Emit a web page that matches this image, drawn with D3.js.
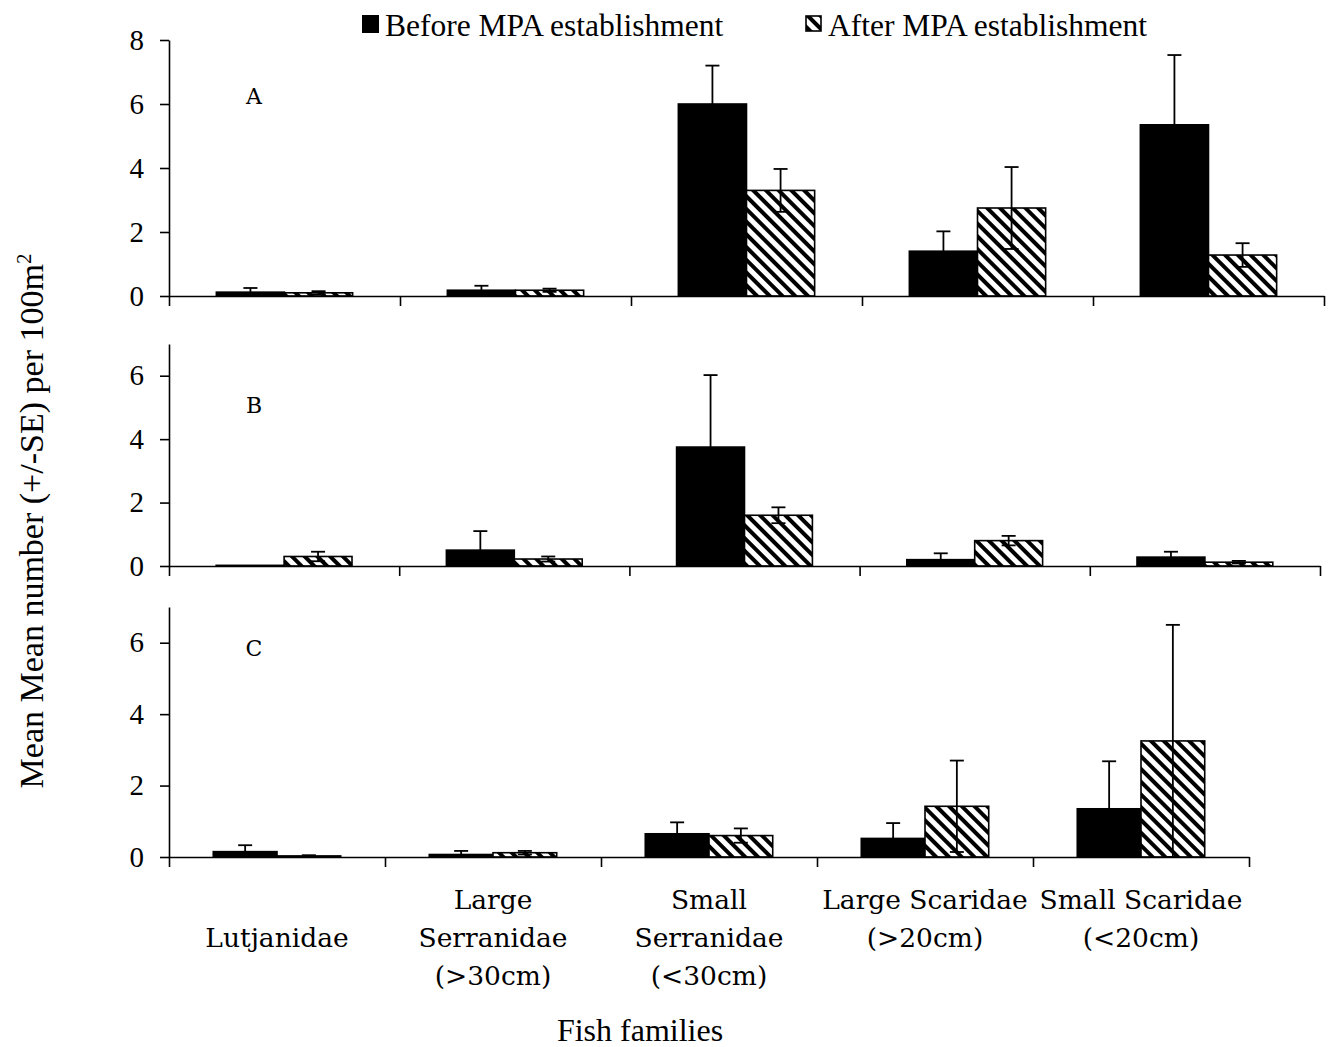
<!DOCTYPE html>
<html>
<head>
<meta charset="utf-8">
<script src="https://cdn.jsdelivr.net/npm/d3@7"></script>
<style>
  body { margin: 0; background: #fff; }
  svg { display: block; }
</style>
</head>
<body>
<svg id="vis" width="1333" height="1047"></svg>
<script>
// categories (fish families), label lines as printed under the axis
var categories = ["Lutjanidae", "Large Serranidae (>30cm)", "Small Serranidae (<30cm)", "Large Scaridae (>20cm)", "Small Scaridae (<20cm)"];
var categoryLines = [["", "Lutjanidae"], ["Large", "Serranidae", "(>30cm)"], ["Small", "Serranidae", "(<30cm)"], ["Large Scaridae", "(>20cm)"], ["Small Scaridae", "(<20cm)"]];
var seriesNames = ["Before MPA establishment", "After MPA establishment"];

// panel A
var beforeA = [0.12, 0.18, 6.0, 1.4, 5.35];
var beforeAErr = [0.13, 0.14, 1.2, 0.62, 2.18];
var afterA = [0.1, 0.18, 3.3, 2.75, 1.28];
var afterAErr = [0.05, 0.05, 0.67, 1.28, 0.37];
// panel B
var beforeB = [0.02, 0.5, 3.75, 0.2, 0.28];
var beforeBErr = [0, 0.6, 2.27, 0.2, 0.17];
var afterB = [0.3, 0.22, 1.6, 0.8, 0.12];
var afterBErr = [0.15, 0.08, 0.25, 0.15, 0.04];
// panel C
var beforeC = [0.15, 0.07, 0.65, 0.52, 1.35];
var beforeCErr = [0.18, 0.1, 0.32, 0.43, 1.33];
var afterC = [0.03, 0.12, 0.6, 1.42, 3.25];
var afterCErr = [0.02, 0.05, 0.2, 1.28, 3.25];

var yTicksA = [0, 2, 4, 6, 8];
var yTicksBC = [0, 2, 4, 6];

var _vis = d3.select("#vis");
var LEFT = 169;
var SERIF = "'Liberation Serif', 'Times New Roman', serif";
var LABEL_FONT = "'DejaVu Serif', serif";

// hatch pattern for the "after" bars ( \\\ stripes )
var defs = _vis.append("defs");
defs.append("pattern")
    .attr("id", "hatch")
    .attr("patternUnits", "userSpaceOnUse")
    .attr("width", 9)
    .attr("height", 9)
    .attr("patternTransform", "rotate(-45)")
    .call(function(p) {
        p.append("rect").attr("width", 9).attr("height", 9).attr("fill", "#fff");
        p.append("rect").attr("x", 0).attr("width", 4).attr("height", 9).attr("fill", "#000");
    });

var panels = [
    {letter: "A", letterY: 104, before: beforeA, beforeErr: beforeAErr, after: afterA, afterErr: afterAErr, max: 8, ticks: yTicksA, y0: 296, top: 40, right: 1324},
    {letter: "B", letterY: 413, before: beforeB, beforeErr: beforeBErr, after: afterB, afterErr: afterBErr, max: 7, ticks: yTicksBC, y0: 566, top: 344, right: 1320},
    {letter: "C", letterY: 656, before: beforeC, beforeErr: beforeCErr, after: afterC, afterErr: afterCErr, max: 7, ticks: yTicksBC, y0: 857, top: 607, right: 1249}
];

panels.forEach(function(p) {
    var g = _vis.append("g").attr("class", "panel");

    var y = d3.scaleLinear().domain([0, p.max]).range([p.y0, p.top]);
    var x0 = d3.scaleBand().domain(categories).range([LEFT, p.right]);
    var bw = x0.bandwidth();
    var x1 = d3.scaleBand().domain(["before", "after"]).range([bw * 0.205, bw * 0.795]);

    var rows = categories.map(function(c, i) {
        return [
            {cat: c, key: "before", v: p.before[i], e: p.beforeErr[i]},
            {cat: c, key: "after", v: p.after[i], e: p.afterErr[i]}
        ];
    });
    var flat = [].concat.apply([], rows);

    // bars
    g.selectAll("rect.bar")
        .data(flat)
        .enter()
        .append("rect")
        .attr("class", "bar")
        .attr("x", function(d) { return x0(d.cat) + x1(d.key); })
        .attr("y", function(d) { return y(d.v); })
        .attr("width", x1.bandwidth())
        .attr("height", function(d) { return p.y0 - y(d.v); })
        .attr("fill", function(d) { return d.key === "before" ? "#000" : "url(#hatch)"; })
        .attr("stroke", "#000")
        .attr("stroke-width", 1.6);

    // error bars (+/- SE)
    var eb = g.selectAll("g.err")
        .data(flat.filter(function(d) { return d.e > 0; }))
        .enter()
        .append("g")
        .attr("class", "err")
        .attr("stroke", "#000")
        .attr("stroke-width", 1.8);
    var cx = function(d) { return x0(d.cat) + x1(d.key) + x1.bandwidth() / 2; };
    eb.append("line")
        .attr("x1", cx).attr("x2", cx)
        .attr("y1", function(d) { return y(Math.max(0, d.v - d.e)); })
        .attr("y2", function(d) { return y(d.v + d.e); });
    eb.append("line")
        .attr("x1", function(d) { return cx(d) - 7; })
        .attr("x2", function(d) { return cx(d) + 7; })
        .attr("y1", function(d) { return y(d.v + d.e); })
        .attr("y2", function(d) { return y(d.v + d.e); });
    eb.append("line")
        .attr("x1", function(d) { return cx(d) - 7; })
        .attr("x2", function(d) { return cx(d) + 7; })
        .attr("y1", function(d) { return y(Math.max(0, d.v - d.e)); })
        .attr("y2", function(d) { return y(Math.max(0, d.v - d.e)); });

    // y axis
    var yAxis = g.append("g")
        .attr("transform", "translate(" + LEFT + ",0)")
        .call(d3.axisLeft(y).tickValues(p.ticks).tickFormat(d3.format("d")).tickSize(9).tickSizeOuter(0).tickPadding(16));
    yAxis.selectAll("text")
        .style("font-family", SERIF)
        .style("font-size", "29px")
        .attr("fill", "#000");

    // x axis: ticks on the category boundaries
    var xb = d3.scaleLinear().domain([0, categories.length]).range([LEFT, p.right]);
    g.append("g")
        .attr("transform", "translate(0," + p.y0 + ")")
        .call(d3.axisBottom(xb).tickValues(d3.range(categories.length + 1)).tickSize(10).tickSizeOuter(0).tickFormat(""));

    g.selectAll(".domain, .tick line")
        .attr("stroke", "#000")
        .attr("stroke-width", 1.6);

    // panel letter
    g.append("text")
        .attr("x", 254)
        .attr("y", p.letterY)
        .attr("text-anchor", "middle")
        .style("font-family", LABEL_FONT)
        .style("font-size", "22px")
        .text(p.letter);

    // category labels under the last panel
    if (p.letter === "C") {
        var lab = g.selectAll("text.cat")
            .data(categories)
            .enter()
            .append("text")
            .attr("class", "cat")
            .attr("text-anchor", "middle")
            .style("font-family", LABEL_FONT)
            .style("font-size", "26.5px")
            .attr("x", function(d) { return x0(d) + bw / 2; });
        lab.each(function(d, i) {
            d3.select(this).selectAll("tspan")
                .data(categoryLines[i])
                .enter()
                .append("tspan")
                .attr("x", x0(d) + bw / 2)
                .attr("y", function(t, j) { return 909 + j * 38; })
                .text(function(t) { return t; });
        });
    }
});

// legend
var legend = _vis.append("g").attr("class", "legend");
legend.append("rect").attr("x", 362).attr("y", 15).attr("width", 17).attr("height", 18).attr("fill", "#000");
legend.append("text").attr("x", 385).attr("y", 36)
    .style("font-family", SERIF).style("font-size", "31.5px").text(seriesNames[0]);
legend.append("rect").attr("x", 806).attr("y", 16).attr("width", 15).attr("height", 15)
    .attr("fill", "url(#hatch)").attr("stroke", "#000").attr("stroke-width", 1.6);
legend.append("text").attr("x", 828).attr("y", 36)
    .style("font-family", SERIF).style("font-size", "31.5px").text(seriesNames[1]);

// axis titles
var yt = _vis.append("text")
    .attr("transform", "translate(43,521) rotate(-90)")
    .attr("text-anchor", "middle")
    .style("font-family", SERIF)
    .style("font-size", "34px");
yt.append("tspan").text("Mean Mean number (+/-SE) per 100m");
yt.append("tspan").attr("baseline-shift", "super").style("font-size", "21px").text("2");

_vis.append("text")
    .attr("x", 640)
    .attr("y", 1041)
    .attr("text-anchor", "middle")
    .style("font-family", SERIF)
    .style("font-size", "32px")
    .text("Fish families");
</script>
</body>
</html>
